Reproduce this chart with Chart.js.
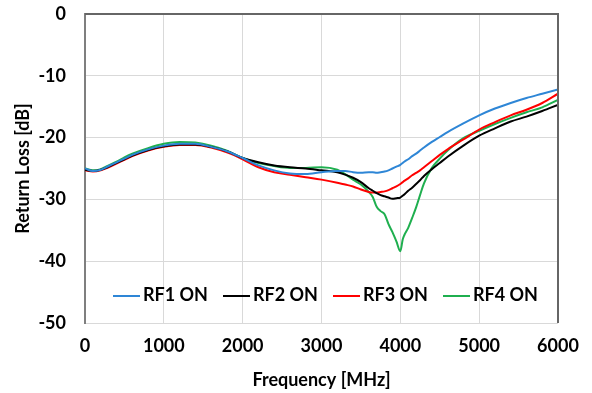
<!DOCTYPE html>
<html><head><meta charset="utf-8">
<script src="https://cdn.jsdelivr.net/npm/chart.js@4/dist/chart.umd.min.js"></script>
<style>
html,body{margin:0;padding:0;background:#fff;}
#wrap{position:relative;width:592px;height:393px;}
#legend{position:absolute;left:0;top:283px;width:592px;height:22px;font:bold 18px Lato,"Liberation Sans",sans-serif;color:#000;}
.li{position:absolute;top:0;height:22px;line-height:22px;white-space:nowrap;}
.li span.sw{display:inline-block;width:27px;height:2px;vertical-align:middle;margin-right:3px;}
</style></head>
<body><div id="wrap"><canvas id="c" width="592" height="393"></canvas><div id="legend"></div></div>
<script>
const freq = [0,100,200,300,400,500,600,800,1000,1200,1400,1600,1800,2000,2200,2400,2600,2800,3000,3200,3300,3400,3500,3600,3650,3700,3750,3800,3850,3900,3950,4000,4030,4050,4100,4150,4200,4250,4300,4400,4500,4600,4800,5000,5200,5400,5600,5800,6000];
const rf1 = [-25.0,-25.4,-25.2,-24.6,-24.0,-23.4,-22.8,-21.9,-21.3,-21.0,-21.0,-21.5,-22.2,-23.3,-24.5,-25.3,-25.8,-25.9,-25.6,-25.4,-25.4,-25.6,-25.7,-25.6,-25.6,-25.7,-25.6,-25.5,-25.3,-25.0,-24.7,-24.4,-24.1,-23.9,-23.5,-23.0,-22.6,-22.1,-21.6,-20.7,-19.9,-19.1,-17.7,-16.4,-15.3,-14.4,-13.6,-12.9,-12.2];
const rf2 = [-25.2,-25.4,-25.2,-24.7,-24.1,-23.5,-22.9,-22.0,-21.4,-21.1,-21.1,-21.5,-22.2,-23.3,-24.0,-24.5,-24.8,-25.0,-25.3,-25.6,-26.0,-26.5,-27.2,-28.2,-28.6,-29.0,-29.3,-29.5,-29.7,-29.9,-29.8,-29.7,-29.4,-29.2,-28.6,-28.1,-27.5,-26.9,-26.2,-25.1,-24.1,-23.1,-21.3,-19.7,-18.5,-17.4,-16.6,-15.7,-14.7];
const rf3 = [-25.3,-25.5,-25.3,-24.8,-24.2,-23.6,-23.0,-22.1,-21.5,-21.2,-21.2,-21.6,-22.4,-23.5,-24.8,-25.6,-26.0,-26.4,-26.8,-27.3,-27.6,-27.9,-28.4,-28.8,-28.9,-28.9,-28.8,-28.7,-28.5,-28.2,-27.9,-27.5,-27.2,-27.0,-26.6,-26.1,-25.7,-25.3,-24.8,-23.8,-22.8,-21.9,-20.3,-18.7,-17.5,-16.4,-15.5,-14.4,-12.9];
const rf4 = [-25.0,-25.3,-25.1,-24.5,-23.9,-23.2,-22.6,-21.7,-21.0,-20.7,-20.8,-21.3,-22.1,-23.3,-24.1,-24.6,-24.9,-24.9,-24.8,-25.2,-25.9,-26.8,-27.6,-28.8,-29.6,-31.2,-31.9,-32.4,-34.0,-35.3,-36.8,-38.4,-36.5,-35.8,-34.6,-33.0,-31.3,-29.3,-27.4,-24.9,-23.4,-22.1,-20.1,-18.9,-17.8,-16.8,-15.9,-15.1,-13.9];
const seriesNames = ["RF1 ON","RF2 ON","RF3 ON","RF4 ON"];
const seriesColors = ["#2E86D6","#000000","#FF0000","#1FAF4F"];
const xTicks = [0,1000,2000,3000,4000,5000,6000];
const yTicks = [0,-10,-20,-30,-40,-50];

const allSeries = [rf1, rf2, rf3, rf4];
const font = {family: "Lato, 'Liberation Sans', sans-serif", size: 18, weight: 'bold'};
const datasets = allSeries.map((s, i) => ({
  label: seriesNames[i],
  data: freq.map((f, k) => ({x: f, y: s[k]})),
  borderColor: seriesColors[i],
  backgroundColor: seriesColors[i],
  borderWidth: 2,
  pointRadius: 0,
  cubicInterpolationMode: 'monotone',
  fill: false
}));
const frame = {
  id: 'frame',
  afterDraw(chart) {
    const {ctx, chartArea: a} = chart;
    ctx.save();
    ctx.strokeStyle = '#666666';
    ctx.lineWidth = 2;
    ctx.beginPath();
    ctx.moveTo(a.left, a.top); ctx.lineTo(a.right, a.top); ctx.lineTo(a.right, a.bottom);
    ctx.stroke();
    ctx.restore();
  }
};
new Chart(document.getElementById('c'), {
  type: 'line',
  data: {datasets},
  plugins: [frame],
  options: {
    responsive: false,
    animation: false,
    layout: {padding: {top: 14, right: 34, left: 0, bottom: 0}},
    plugins: {legend: {display: false}, tooltip: {enabled: false}},
    scales: {
      x: {
        type: 'linear', min: 0, max: 6000,
        afterBuildTicks: s => { s.ticks = xTicks.map(v => ({value: v})); },
        afterFit: s => { s.height = 70; s.paddingLeft = 0; s.paddingRight = 0; },
        grid: {color: '#D9D9D9', lineWidth: 1, drawTicks: false},
        border: {display: false},
        ticks: {font, color: '#000', padding: 12, maxRotation: 0, callback: v => String(v)},
        title: {display: true, text: 'Frequency [MHz]', font, color: '#000', padding: {top: 0, bottom: 2}}
      },
      y: {
        type: 'linear', min: -50, max: 0,
        afterBuildTicks: s => { s.ticks = yTicks.map(v => ({value: v})); },
        afterFit: s => { s.width = 85; s.paddingTop = 0; s.paddingBottom = 0; },
        grid: {color: '#D9D9D9', lineWidth: 1, drawTicks: false},
        border: {display: true, color: '#7F7F7F', width: 2},
        ticks: {font, color: '#000', padding: 19, callback: v => String(v)},
        title: {display: true, text: 'Return Loss [dB]', font, color: '#000', padding: {top: 12, bottom: 0}}
      }
    }
  }
});
const lg = document.getElementById('legend');
const legendX = [113, 223, 333, 443];
seriesNames.forEach((n, i) => {
  const d = document.createElement('div');
  d.className = 'li';
  d.style.left = legendX[i] + 'px';
  d.innerHTML = '<span class="sw" style="background:' + seriesColors[i] + '"></span>' + n;
  lg.appendChild(d);
});
</script></body></html>
